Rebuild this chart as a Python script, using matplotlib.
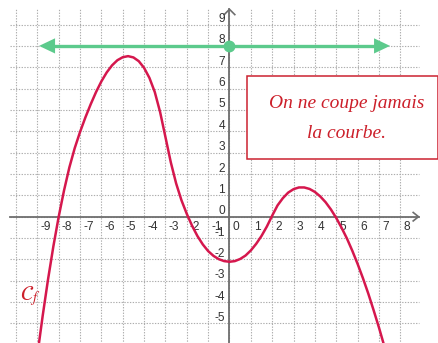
import matplotlib
matplotlib.use('Agg')
import matplotlib.pyplot as plt
from matplotlib.patches import Rectangle, Polygon

# ---- data ----
curve_x = [-9.0, -8.75, -8.5, -8.25, -8.0, -7.75, -7.5, -7.25, -7.0, -6.75,
           -6.5, -6.25, -6.0, -5.75, -5.5, -5.25, -5.0, -4.75, -4.5, -4.25,
           -4.0, -3.75, -3.5, -3.25, -3.0, -2.75, -2.5, -2.25, -2.0, -1.75,
           -1.5, -1.25, -1.0, -0.75, -0.5, -0.25, 0.0, 0.25, 0.5, 0.75,
           1.0, 1.25, 1.5, 1.75, 2.0, 2.25, 2.5, 2.75, 3.0, 3.25,
           3.5, 3.75, 4.0, 4.25, 4.5, 4.75, 5.0, 5.25, 5.5, 5.75,
           6.0, 6.25, 6.5, 6.75, 7.0, 7.25]
curve_y = [-6.48, -4.64, -2.94, -1.39, 0.0, 1.23, 2.31, 3.21, 3.97, 4.65,
           5.27, 5.84, 6.34, 6.76, 7.09, 7.33, 7.47, 7.52, 7.46, 7.285,
           6.97, 6.50, 5.84, 4.90, 3.73, 2.55, 1.56, 0.77, 0.13, -0.43,
           -0.91, -1.30, -1.61, -1.835, -1.99, -2.08, -2.11, -2.08, -1.98, -1.82,
           -1.58, -1.27, -0.90, -0.46, 0.05, 0.53, 0.87, 1.13, 1.29, 1.37,
           1.37, 1.30, 1.16, 0.95, 0.68, 0.34, -0.06, -0.52, -1.02, -1.59,
           -2.21, -2.88, -3.60, -4.38, -5.19, -6.06]
x_ticks = list(range(-9, 9))
y_ticks = list(range(-5, 10))
grid_x = list(range(-10, 9))
grid_y = list(range(-5, 10))
line_y = 8
line_x = [-8.92, 7.52]
point_xy = (0, 8)
note_lines = ["On ne coupe jamais", "la courbe."]
curve_label = r"$\mathcal{C}_f$"

# ---- layout ----
W, H = 439, 343
u = 21.35          # pixels per unit
ox, oy = 229.5, 216.7  # origin position in pixels (from top-left)

fig = plt.figure(figsize=(W / 100, H / 100), dpi=100)
ax = fig.add_axes([0, 0, 1, 1])
ax.set_xlim(-ox / u, (W - ox) / u)
ax.set_ylim(-(H - oy) / u, oy / u)
ax.axis('off')

def px2x(p):
    return (p - ox) / u

def px2y(p):
    return (oy - p) / u

grid_kw = dict(color='#adadad', lw=0.8, dashes=(1.2, 1.3), zorder=1)
x_left, x_right = px2x(10), px2x(418.5)
y_top, y_bot = px2y(8.5), px2y(H + 2)
for gx in grid_x:
    ax.plot([gx, gx], [y_bot, y_top], **grid_kw)
for gy in grid_y:
    ax.plot([x_left, x_right], [gy, gy], **grid_kw)

axis_c = '#6e6e6e'
ax.plot([x_left, x_right], [0, 0], color=axis_c, lw=1.3, zorder=2)
ax.plot([0, 0], [y_bot, px2y(9.3)], color=axis_c, lw=1.3, zorder=2)
# chevrons
a = 5.3 / u
ax.plot([x_right - a, x_right, x_right - a], [a * 0.8, 0, -a * 0.8], color=axis_c, lw=1.2, zorder=2)
yt = px2y(9.3)
ax.plot([-a, 0, a], [yt - a, yt, yt - a], color=axis_c, lw=1.2, zorder=2)

# tick labels
lab_kw = dict(fontsize=8.6, color='#333333', family='Liberation Sans', zorder=3)
for k in x_ticks:
    ax.annotate(str(k), (k, 0), xytext=(3, -10.5), textcoords='offset pixels',
                ha='left', va='center', **lab_kw)
for k in y_ticks:
    ax.annotate(str(k), (0, k), xytext=(-4.5, 5.5), textcoords='offset pixels',
                ha='right', va='center', **lab_kw)

# curve
red = '#d5174d'
ax.plot(curve_x, curve_y, color=red, lw=1.8, zorder=4, solid_capstyle='round',
        solid_joinstyle='round')

# green line with arrows
green = '#5cca8c'
hl, hw = 16 / u, 7.6 / u
ax.plot([line_x[0] + hl * 0.8, line_x[1] - hl * 0.8], [line_y, line_y], color=green, lw=2.4, zorder=5,
        solid_capstyle='butt')
ax.add_patch(Polygon([[line_x[0], line_y], [line_x[0] + hl, line_y + hw], [line_x[0] + hl, line_y - hw]],
                     closed=True, facecolor=green, edgecolor='none', zorder=5))
ax.add_patch(Polygon([[line_x[1], line_y], [line_x[1] - hl, line_y + hw], [line_x[1] - hl, line_y - hw]],
                     closed=True, facecolor=green, edgecolor='none', zorder=5))
ax.plot([point_xy[0]], [point_xy[1]], 'o', color=green, ms=7.5, mec=green, zorder=6)

# note box
bx0, bx1 = px2x(247), px2x(438)
by0, by1 = px2y(159), px2y(76)
ax.add_patch(Rectangle((bx0, by0), bx1 - bx0, by1 - by0, facecolor='white',
                       edgecolor='#cc2230', lw=1.1, zorder=7))
note_c = '#cc1f2a'
ax.text(px2x(346.5), px2y(103), note_lines[0], ha='center', va='center', fontsize=14,
        family='Liberation Serif', style='italic', color=note_c, zorder=8)
ax.text(px2x(346.5), px2y(134), note_lines[1], ha='center', va='center', fontsize=14,
        family='Liberation Serif', style='italic', color=note_c, zorder=8)

ax.text(px2x(30), px2y(296), curve_label, ha='center', va='center', fontsize=15,
        color=note_c, math_fontfamily='stix', zorder=8)

fig.savefig('out.png', dpi=100)
